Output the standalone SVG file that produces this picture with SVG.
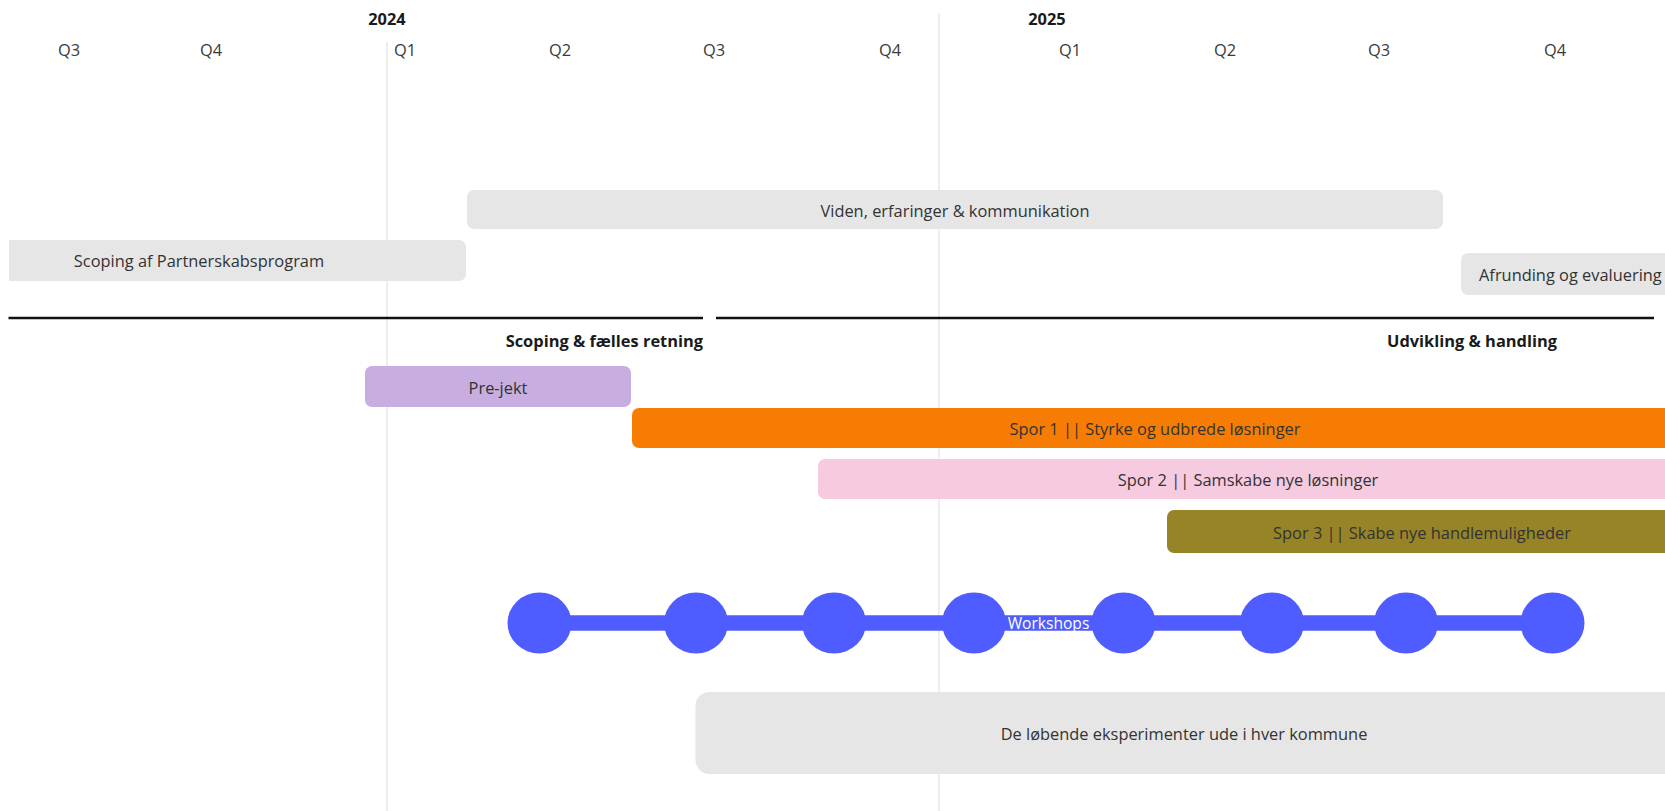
<svg xmlns="http://www.w3.org/2000/svg" width="1665" height="811" viewBox="0 0 1665 811">
<style>
text{font-family:"Open Sans","Noto Sans","Liberation Sans",sans-serif;font-size:16.4px;fill:#333;dominant-baseline:central}
.yr{font-weight:bold;fill:#1a1a1a}
.q{fill:#3a3a3a}
.ph{font-weight:bold;fill:#1a1a1a}
.grid{stroke:#e3e3e3;stroke-width:1.2}
.gray{fill:#e6e6e6}
.mid{text-anchor:middle}
.wk{fill:#ffffff;font-size:15.6px}
</style>
<rect width="1665" height="811" fill="#ffffff"/>
<g id="axis">
<line class="grid" x1="387" y1="42" x2="387" y2="811"/>
<line class="grid" x1="939" y1="13" x2="939" y2="811"/>
<text class="yr mid" x="387" y="18">2024</text>
<text class="yr mid" x="1047" y="18">2025</text>
<text class="q mid" x="69" y="49">Q3</text>
<text class="q mid" x="211" y="49">Q4</text>
<text class="q mid" x="405" y="49">Q1</text>
<text class="q mid" x="560" y="49">Q2</text>
<text class="q mid" x="714" y="49">Q3</text>
<text class="q mid" x="890" y="49">Q4</text>
<text class="q mid" x="1070" y="49">Q1</text>
<text class="q mid" x="1225" y="49">Q2</text>
<text class="q mid" x="1379" y="49">Q3</text>
<text class="q mid" x="1555" y="49">Q4</text>
</g>
<g id="viden">
<rect class="gray" x="467" y="190" width="976" height="39" rx="7"/>
<text class="mid" x="955" y="210">Viden, erfaringer &amp; kommunikation</text>
</g>
<g id="scoping">
<path class="gray" d="M9 240 H459 A7 7 0 0 1 466 247 V274 A7 7 0 0 1 459 281 H9 Z"/>
<text class="mid" x="199" y="260">Scoping af Partnerskabsprogram</text>
</g>
<g id="afrunding">
<rect class="gray" x="1461" y="253" width="230" height="42" rx="7"/>
<text x="1479" y="274">Afrunding og evaluering</text>
</g>
<g id="phases">
<line x1="8.5" y1="318" x2="703" y2="318" stroke="#111" stroke-width="2.6"/>
<line x1="716" y1="318" x2="1654" y2="318" stroke="#111" stroke-width="2.6"/>
<text class="ph" x="703" y="340" text-anchor="end">Scoping &amp; fælles retning</text>
<text class="ph mid" x="1472" y="340">Udvikling &amp; handling</text>
</g>
<g id="prejekt">
<rect x="365" y="366" width="266" height="41" rx="7" fill="#c8aee0"/>
<text class="mid" x="498" y="387">Pre-jekt</text>
</g>
<g id="spor1">
<rect x="632" y="408" width="1060" height="40" rx="7" fill="#f77c04"/>
<text class="mid" x="1155" y="428">Spor 1 || Styrke og udbrede løsninger</text>
</g>
<g id="spor2">
<rect x="818" y="459" width="870" height="40" rx="7" fill="#f6cadf"/>
<text class="mid" x="1248" y="479">Spor 2 || Samskabe nye løsninger</text>
</g>
<g id="spor3">
<rect x="1167" y="510" width="520" height="43" rx="7" fill="#978427"/>
<text class="mid" x="1422" y="532">Spor 3 || Skabe nye handlemuligheder</text>
</g>
<g id="connectors">
<line x1="539" y1="623" x2="1552" y2="623" stroke="#4f5cff" stroke-width="15.5"/>
</g>
<g id="workshops" fill="#4f5cff">
<ellipse cx="539.5" cy="623" rx="32" ry="30.5"/>
<ellipse cx="696" cy="623" rx="32" ry="30.5"/>
<ellipse cx="834" cy="623" rx="32" ry="30.5"/>
<ellipse cx="974" cy="623" rx="32" ry="30.5"/>
<ellipse cx="1123.5" cy="623" rx="32" ry="30.5"/>
<ellipse cx="1272" cy="623" rx="32" ry="30.5"/>
<ellipse cx="1406" cy="623" rx="32" ry="30.5"/>
<ellipse cx="1552.5" cy="623" rx="32" ry="30.5"/>
<text class="wk mid" x="1048.5" y="623">Workshops</text>
</g>
<g id="eksperimenter">
<rect class="gray" x="695.5" y="692" width="1000" height="82" rx="14"/>
<text class="mid" x="1184" y="733">De løbende eksperimenter ude i hver kommune</text>
</g>
</svg>
